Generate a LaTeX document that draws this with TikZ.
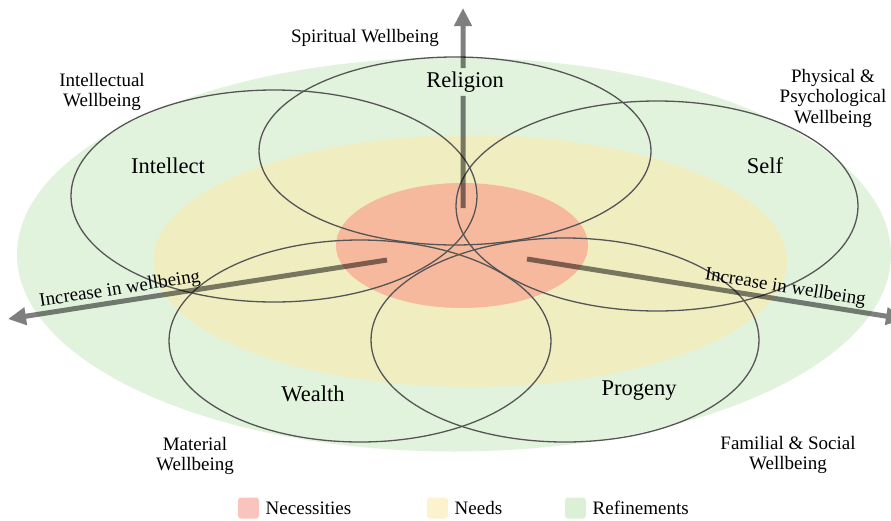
\documentclass[tikz,border=0pt]{standalone}
\usepackage{fontspec}
\setmainfont{Liberation Serif}
\usetikzlibrary{arrows.meta,positioning}
\definecolor{refine}{RGB}{226,243,221}
\definecolor{needs}{RGB}{240,238,192}
\definecolor{necess}{RGB}{247,185,158}
\definecolor{refinekey}{RGB}{220,240,215}
\definecolor{needskey}{RGB}{253,242,206}
\definecolor{necesskey}{RGB}{250,196,190}
\definecolor{rim}{RGB}{85,85,85}
\begin{document}
\begin{tikzpicture}[x=1pt,y=-1pt,
    petal/.style={draw=rim,line width=1.3pt},
    stem/.style={line width=5pt,draw=black},
    axis/.style={stem,-{Triangle[length=18pt,width=17pt]}},
    petalname/.style={font=\fontsize{22.5}{27}\selectfont},
    realm/.style={font=\fontsize{19}{20.5}\selectfont,align=center},
    gain/.style={font=\fontsize{19}{20.5}\selectfont,sloped,above=3pt,inner sep=0pt},
    key/.style={rounded corners=3pt,minimum size=21pt,inner sep=0pt},
    keytext/.style={font=\fontsize{19}{20.5}\selectfont,right=3pt of #1}]
  \useasboundingbox (0,0) rectangle (891,520);
  \fill[refine] (454,254.5) ellipse [x radius=437, y radius=197];
  \fill[needs] (470,261) ellipse [x radius=317, y radius=126];
  \fill[necess] (462,245.5) ellipse [x radius=126, y radius=62.5];
  \draw[petal] (455,151) ellipse [x radius=196, y radius=94];
  \draw[petal] (274,196) ellipse [x radius=203, y radius=106];
  \draw[petal] (657,206) ellipse [x radius=201, y radius=105];
  \draw[petal] (360,341) ellipse [x radius=191, y radius=101];
  \draw[petal] (565,340) ellipse [x radius=194, y radius=102];
  \node[petalname] (religion) at (465,82) {Religion};
  \node[petalname] (intellect) at (168,166) {Intellect};
  \node[petalname] (self) at (765,166) {Self};
  \node[petalname] (wealth) at (313,394) {Wealth};
  \node[petalname] (progeny) at (639,391) {Progeny};
  \node[realm] (spiritual) at (365,38) {Spiritual Wellbeing};
  \node[realm] (intellectual) at (102,92) {Intellectual\\Wellbeing};
  \node[realm] (physical) at (833,98) {Physical \&\\Psychological\\Wellbeing};
  \node[realm] (material) at (195,456) {Material\\Wellbeing};
  \node[realm] (familial) at (788,455) {Familial \& Social\\Wellbeing};
  \coordinate (upfoot) at (463,208);
  \coordinate (uptip) at (463,8);
  \coordinate (leftfoot) at (387,260);
  \coordinate (lefttip) at (8,319);
  \coordinate (rightfoot) at (527,259);
  \coordinate (righttip) at (904,319);
  \begin{scope}[transparency group,opacity=0.5]
    \draw[stem] (upfoot) -- (upfoot |- religion.south);
    \draw[axis] (upfoot |- religion.north) -- (uptip);
    \draw[axis] (leftfoot) -- (lefttip);
    \draw[axis] (rightfoot) -- (righttip);
  \end{scope}
  \path (leftfoot) -- (lefttip) node[gain,pos=0.7] (leftgain) {Increase in wellbeing};
  \path (rightfoot) -- (righttip) node[gain,pos=0.68] (rightgain) {Increase in wellbeing};
  \node[key,fill=necesskey] (necesskeybox) at (248.5,508) {};
  \node[keytext=necesskeybox] (necesstext) {Necessities};
  \node[key,fill=needskey] (needskeybox) at (437.5,508) {};
  \node[keytext=needskeybox] (needstext) {Needs};
  \node[key,fill=refinekey] (refinekeybox) at (575.5,508) {};
  \node[keytext=refinekeybox] (refinetext) {Refinements};
\end{tikzpicture}
\end{document}
